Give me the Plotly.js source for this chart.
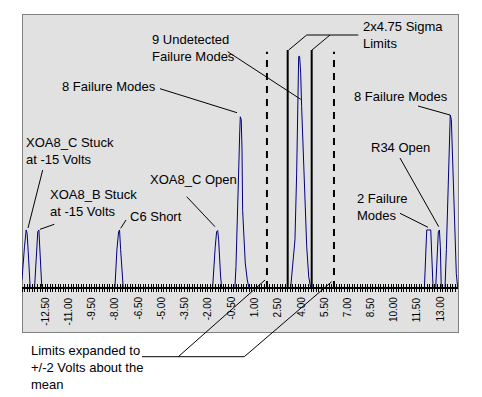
<!DOCTYPE html>
<html>
<head>
<meta charset="utf-8">
<script src="https://cdn.plot.ly/plotly-3.0.1.min.js"></script>
<style>
html,body{margin:0;padding:0;background:#fff;}
#wrap{position:relative;width:482px;height:397px;}
#box{position:absolute;left:22px;top:14px;width:435px;height:317px;background:#e1e1e1;border:1px solid #808080;}
#chart{position:absolute;left:0;top:0;width:482px;height:397px;}
</style>
</head>
<body>
<div id="wrap"><div id="box"></div><div id="chart"></div></div>
<script>
// ---- data (volts, relative density) ----
var stuckC_x   = [-14.0, -13.93, -13.84, -13.73, -13.67, -13.6, -13.54, -13.47];
var stuckC_y   = [0.15, 0.43, 0.71, 1.0, 0.94, 0.63, 0.31, 0];
var stuckB_x   = [-13.19, -13.12, -13.06, -12.98, -12.91, -12.85, -12.79, -12.72];
var stuckB_y   = [0, 0.31, 0.66, 0.97, 1.0, 0.66, 0.31, 0];
var c6Short_x  = [-8.0, -7.94, -7.87, -7.76, -7.70, -7.63, -7.55, -7.46];
var c6Short_y  = [0, 0.31, 0.66, 0.97, 1.0, 0.66, 0.31, 0];
var openC_x    = [-1.69, -1.60, -1.52, -1.43, -1.36, -1.30, -1.24, -1.17, -1.10];
var openC_y    = [0, 0.43, 0.71, 0.97, 0.99, 0.83, 0.48, 0.19, 0];
var modes8L_x  = [-0.25, -0.18, -0.10, -0.01, 0.06, 0.10, 0.16, 0.21, 0.25, 0.34, 0.42, 0.55, 0.66];
var modes8L_y  = [0, 0.37, 1.34, 1.98, 2.67, 2.95, 2.90, 2.38, 1.34, 0.77, 0.43, 0.14, 0];
var modes9_x   = [3.35, 3.48, 3.63, 3.74, 3.80, 3.87, 3.93, 4.00, 4.06, 4.13, 4.21, 4.30, 4.39, 4.52, 4.65];
var modes9_y   = [0, 0.37, 0.83, 1.98, 3.41, 3.99, 3.99, 3.70, 3.13, 2.55, 1.81, 1.29, 0.71, 0.19, 0];
var modes2_x   = [11.99, 12.05, 12.14, 12.40, 12.46, 12.55];
var modes2_y   = [0, 0.48, 1.0, 1.0, 0.48, 0];
var r34Open_x  = [12.72, 12.79, 12.89, 12.96, 13.02, 13.08];
var r34Open_y  = [0, 0.48, 0.97, 1.0, 0.71, 0];
var modes8R_x  = [13.32, 13.41, 13.50, 13.56, 13.62, 13.66, 13.73, 13.79, 13.88, 13.96, 14.05, 14.14];
var modes8R_y  = [0, 0.66, 1.57, 2.32, 2.90, 2.98, 2.90, 2.32, 1.52, 0.77, 0.25, 0];

var expandedLimits = [1.82, 6.15];   // +/-2 V about the mean (dashed)
var sigmaLimits    = [3.16, 4.71];   // 2x4.75 sigma (solid)
var expandedTop = 4.07, sigmaTop = 4.10;

var tickValues = [-12.5, -11.0, -9.5, -8.0, -6.5, -5.0, -3.5, -2.0, -0.5, 1.0, 2.5, 4.0, 5.5, 7.0, 8.5, 10.0, 11.5, 13.0];
var tickLabels = ["-12.50", "-11.00", "-9.50", "-8.00", "-6.50", "-5.00", "-3.50", "-2.00", "-0.50", "1.00",
                  "2.50", "4.00", "5.50", "7.00", "8.50", "10.00", "11.50", "13.00"];
var minorStep = 1/6;
var xRange = [-14.0, 14.16];
var yTop = 4.72;

var labels = [
  {text: "XOA8_C Stuck<br>at -15 Volts", px: 25, py: 134},
  {text: "XOA8_B Stuck<br>at -15 Volts", px: 49, py: 186},
  {text: "C6 Short", px: 129, py: 208},
  {text: "XOA8_C Open", px: 149, py: 171},
  {text: "8 Failure Modes", px: 61, py: 78},
  {text: "9 Undetected<br>Failure Modes", px: 151, py: 31},
  {text: "2x4.75 Sigma<br>Limits", px: 362, py: 18},
  {text: "8 Failure Modes", px: 353, py: 88},
  {text: "R34 Open", px: 370, py: 139},
  {text: "2 Failure<br>Modes", px: 356, py: 190},
  {text: "Limits expanded to<br>+/-2 Volts about the<br>mean", px: 30, py: 342}
];
// leader lines in page pixels [x0,y0,x1,y1]
var leaders = [
  [42.7,170, 28,228], [54.3,224.3, 40,229.3], [126,220, 120.7,228.3],
  [186.7,196.7, 215,226.7], [160,88.7, 237,112.7], [227.7,51.7, 300.7,99.3],
  [306.7,35, 358.3,35], [306.7,35, 288.7,50], [330,35, 312,50],
  [418,106, 450,115], [400,158, 438.7,226.7], [400,213.3, 428,227.3],
  [142,356.7, 244.3,356.7], [178.3,356.7, 265,280], [244.3,356.7, 331.7,281.7]
];

// ---- build ----
var peaks = [[stuckC_x,stuckC_y],[stuckB_x,stuckB_y],[c6Short_x,c6Short_y],[openC_x,openC_y],
             [modes8L_x,modes8L_y],[modes9_x,modes9_y],[modes2_x,modes2_y],[r34Open_x,r34Open_y],
             [modes8R_x,modes8R_y]];
var xs = [], ys = [];
peaks.forEach(function(p){ xs = xs.concat(p[0]); ys = ys.concat(p[1]); });

// geometry: gray box = plot area (22..458 x 14..332); axis line at y=288
var W = 482, H = 397, mL = 22, mR = 24, mT = 14, mB = 65, axisPx = 288;
var pw = W - mL - mR, ph = H - mT - mB;
var axisPos = (H - mB - axisPx) / ph;
var yRange = [-yTop * (H - mB - axisPx) / (axisPx - mT), yTop];
function xp(px){ return (px - mL) / pw; }
function yp(py){ return (H - mB - py) / ph; }

var fontFam = "Liberation Sans, Arial, sans-serif";
var traces = [
  {x: xs, y: ys, type: 'scatter', mode: 'lines', line: {color: '#000080', width: 1},
   hoverinfo: 'skip', showlegend: false},
  {x: xs, y: ys, xaxis: 'x2', type: 'scatter', mode: 'lines', line: {color: 'rgba(0,0,0,0)', width: 0},
   hoverinfo: 'skip', showlegend: false}
];

var shapes = [];
expandedLimits.forEach(function(v){
  shapes.push({type: 'line', xref: 'x', yref: 'y', x0: v, x1: v, y0: 0, y1: expandedTop,
               line: {color: '#000', width: 2, dash: '7px,6px'}});
});
sigmaLimits.forEach(function(v){
  shapes.push({type: 'line', xref: 'x', yref: 'y', x0: v, x1: v, y0: 0, y1: sigmaTop,
               line: {color: '#000', width: 2}});
});
leaders.forEach(function(l){
  shapes.push({type: 'line', xref: 'paper', yref: 'paper', x0: xp(l[0]), y0: yp(l[1]), x1: xp(l[2]), y1: yp(l[3]),
               line: {color: '#000', width: 1}});
});

var annotations = labels.map(function(a){
  return {text: a.text, xref: 'paper', yref: 'paper', x: xp(a.px), y: yp(a.py),
          xanchor: 'left', yanchor: 'top', align: 'left', showarrow: false,
          font: {family: fontFam, size: 13, color: '#000'}, borderpad: 0};
});
tickValues.forEach(function(v, i){
  annotations.push({text: tickLabels[i], xref: 'x', yref: 'paper', x: v, y: yp(296),
                    xanchor: 'center', yanchor: 'top', textangle: -90, showarrow: false,
                    font: {family: fontFam, size: 10, color: '#000'}, borderpad: 0});
});

var layout = {
  width: W, height: H,
  margin: {l: mL, r: mR, t: mT, b: mB, pad: 0, autoexpand: false},
  paper_bgcolor: 'rgba(0,0,0,0)', plot_bgcolor: 'rgba(0,0,0,0)',
  showlegend: false,
  xaxis: {range: xRange, anchor: 'free', position: axisPos, automargin: false,
          tickmode: 'array', tickvals: tickValues, showticklabels: false,
          ticks: 'outside', ticklen: 3, tickwidth: 1, tickcolor: '#000',
          minor: {tick0: -12.5, dtick: minorStep, ticks: 'outside', ticklen: 3, tickwidth: 1, tickcolor: '#000'},
          showline: true, linecolor: '#000', linewidth: 2, showgrid: false, zeroline: false,
          fixedrange: true},
  xaxis2: {range: xRange, overlaying: 'x', anchor: 'free', position: axisPos, side: 'bottom', automargin: false,
           tickmode: 'array', tickvals: tickValues,
           ticks: 'inside', ticklen: 4, tickwidth: 1, tickcolor: '#000',
           minor: {tick0: -12.5, dtick: minorStep, ticks: 'inside', ticklen: 4, tickwidth: 1, tickcolor: '#000'},
           showticklabels: false, showline: false, showgrid: false, zeroline: false, fixedrange: true},
  yaxis: {range: yRange, visible: false, fixedrange: true, automargin: false},
  shapes: shapes,
  annotations: annotations
};

Plotly.newPlot('chart', traces, layout, {displayModeBar: false, staticPlot: true});
</script>
</body>
</html>
